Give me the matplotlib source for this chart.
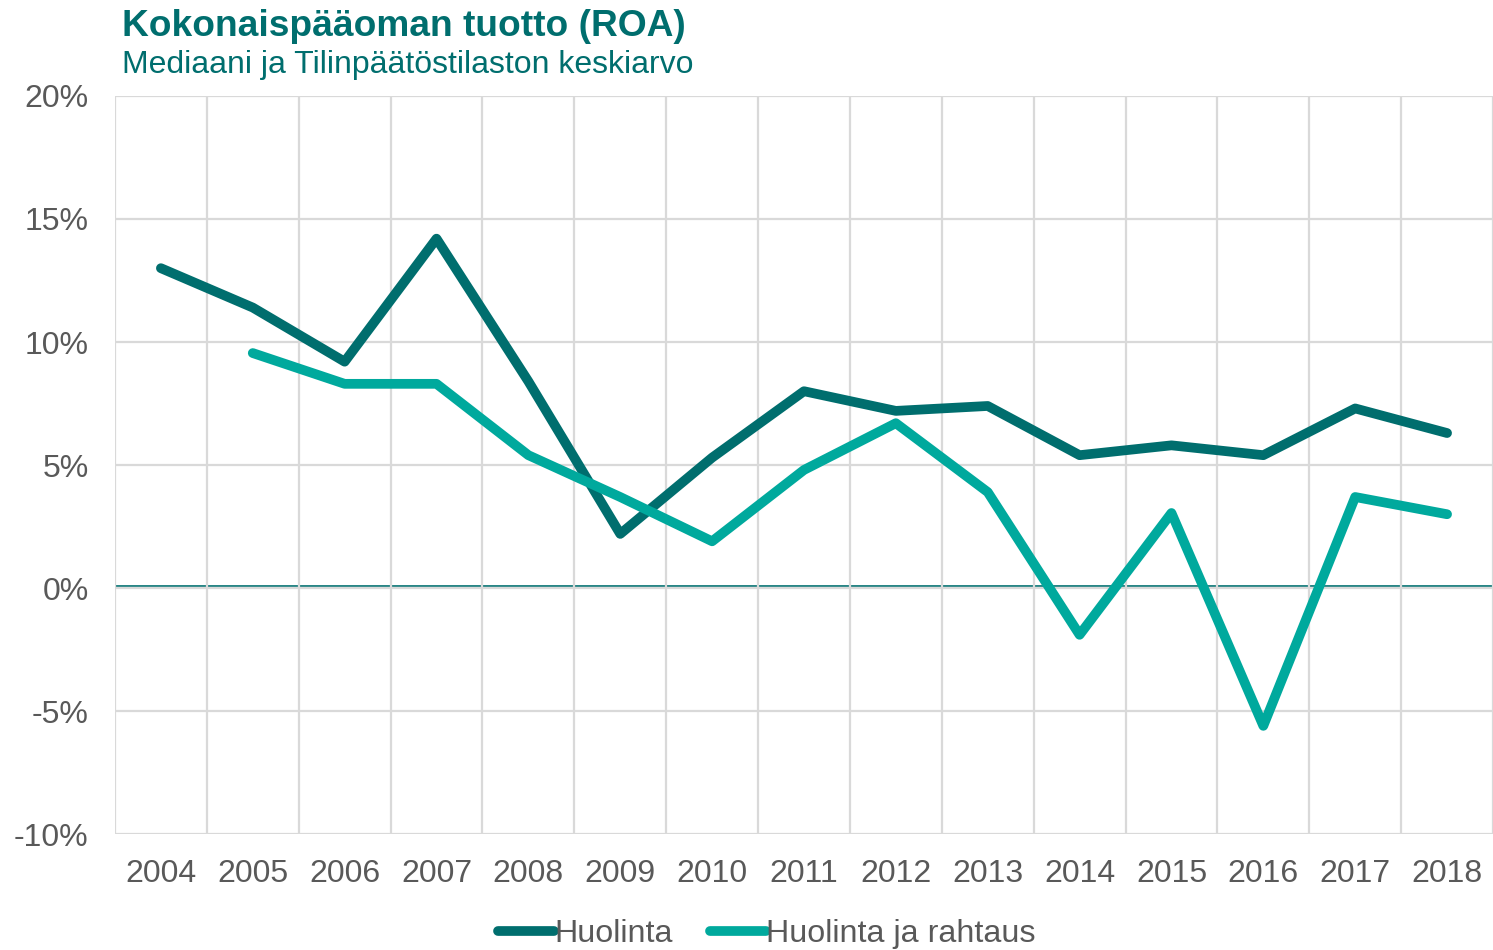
import matplotlib

matplotlib.use("Agg")
import matplotlib.pyplot as plt
from matplotlib.ticker import FuncFormatter

plt.rcParams["font.family"] = ["Liberation Sans", "DejaVu Sans"]

# --- data -------------------------------------------------------------------
years = ["2004", "2005", "2006", "2007", "2008", "2009", "2010", "2011",
         "2012", "2013", "2014", "2015", "2016", "2017", "2018"]
huolinta = [13.0, 11.4, 9.2, 14.2, 8.4, 2.2, 5.3, 8.0, 7.2, 7.4, 5.4, 5.8,
            5.4, 7.3, 6.3]
# no value for 2004
huolinta_rahtaus = [None, 9.55, 8.3, 8.3, 5.4, 3.7, 1.9, 4.8, 6.7, 3.9,
                    -1.9, 3.05, -5.6, 3.7, 3.0]
y_ticks = [-10, -5, 0, 5, 10, 15, 20]

title = "Kokonaispääoman tuotto (ROA)"
subtitle = "Mediaani ja Tilinpäätöstilaston keskiarvo"

# --- style ------------------------------------------------------------------
DARK = "#006E6E"
LIGHT = "#00A99D"
TEXT = "#595959"
GRID = "#D9D9D9"

fig = plt.figure(figsize=(14.93, 9.5), dpi=100)
ax = fig.add_axes([0.077, 0.122, 0.923, 0.777])

x = list(range(len(years)))
rahtaus_x = [i for i, v in zip(x, huolinta_rahtaus) if v is not None]
rahtaus_y = [v for v in huolinta_rahtaus if v is not None]

line_kw = dict(lw=7, solid_capstyle="round", solid_joinstyle="round", zorder=3)
ax.plot(x, huolinta, color=DARK, label="Huolinta", **line_kw)
ax.plot(rahtaus_x, rahtaus_y, color=LIGHT, label="Huolinta ja rahtaus", **line_kw)

ax.set_xlim(-0.5, len(years) - 0.5)
ax.set_ylim(-10, 20)

# horizontal grid at tick values, vertical grid between categories
ax.set_yticks(y_ticks)
ax.yaxis.set_major_formatter(FuncFormatter(lambda v, _: f"{v:.0f}%"))
ax.set_xticks(x)
ax.set_xticklabels(years)
ax.set_xticks([i - 0.5 for i in range(len(years) + 1)], minor=True)
ax.grid(axis="y", which="major", color=GRID, lw=1.6, zorder=0)
ax.grid(axis="x", which="minor", color=GRID, lw=1.6, zorder=0)
ax.axhline(0.07, color=DARK, lw=1.2, zorder=1)

ax.tick_params(axis="both", which="both", length=0, labelsize=23,
               labelcolor=TEXT)
ax.tick_params(axis="x", pad=18)
ax.tick_params(axis="y", pad=19)
for lbl in ax.get_yticklabels():
    lbl.set_horizontalalignment("right")
for side in ("top", "right", "left", "bottom"):
    ax.spines[side].set_visible(False)

fig.text(0.0817, 0.972, title, fontsize=26.7, fontweight="bold", color=DARK,
         va="center", ha="left")
fig.text(0.0817, 0.932, subtitle, fontsize=23, color=DARK, va="center",
         ha="left")

leg = fig.legend(loc="center", bbox_to_anchor=(0.5135, 0.017), ncol=2,
                 frameon=False, fontsize=23.2, handlelength=1.75,
                 handletextpad=0.0, columnspacing=1.15)
for t in leg.get_texts():
    t.set_color(TEXT)

fig.savefig("out.png", dpi=100)
